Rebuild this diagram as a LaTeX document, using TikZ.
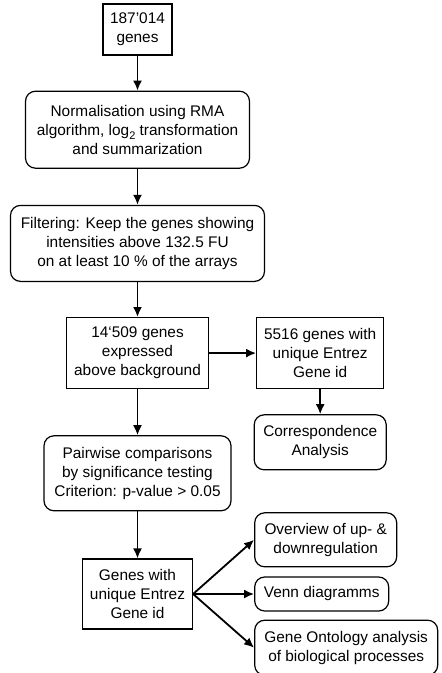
\documentclass[tikz,border=0pt]{standalone}
\usepackage{fontspec}
\setmainfont{Liberation Sans}
\usepackage{xcolor}
\usepackage{tikz}
\usetikzlibrary{shapes.geometric, arrows.meta, positioning, calc}

\begin{document}
\begin{tikzpicture}[
    x=1pt, y=1pt,
    node distance=35pt,
    font=\fontsize{15.4}{19}\selectfont,
    box/.style={rectangle, draw, line width=1.2pt, align=center, inner sep=2pt},
    rbox/.style={box, rounded corners=10pt},
    arrow/.style={line width=1.8pt,-{Latex[length=10pt,width=9pt]}}
]
\useasboundingbox (0,0) rectangle (442,-673);

\node[box, minimum width=69pt, minimum height=51pt] (raw) at (137.5,-29.5) {187\symbol{"27}014\\genes};
\node[rbox, minimum width=224pt, minimum height=77pt, below=of raw] (norm) {Normalisation using RMA\\algorithm, log\raisebox{-4pt}{\fontsize{11}{11}\selectfont 2} transformation\\and summarization};
\node[rbox, minimum width=254pt, minimum height=76pt, below=36pt of norm] (filter) {Filtering: Keep the genes showing\\intensities above 132.5 FU\\on at least 10 \% of the arrays};
\node[box, minimum width=142pt, minimum height=71pt, below=of filter] (expressed) {14‘509 genes\\expressed\\above background};
\node[box, minimum width=127pt, minimum height=71pt, right=47pt of expressed] (entrez) {5516 genes with\\unique Entrez\\Gene id};
\node[rbox, minimum width=132pt, minimum height=55pt, below=25pt of entrez] (corresp) {Correspondence\\Analysis};
\node[rbox, minimum width=187pt, minimum height=75pt, below=46pt of expressed] (pairwise) {Pairwise comparisons\\by significance testing\\Criterion: p-value > 0.05};
\node[box, minimum width=110pt, minimum height=70pt, below=47pt of pairwise] (genes) {Genes with\\unique Entrez\\Gene id};
\node[rbox, minimum width=134pt, minimum height=34pt, right=61pt of genes] (venn) {Venn diagramms};
\node[rbox, minimum width=142pt, minimum height=54pt, anchor=south west] (overview) at ([yshift=9pt]venn.north west) {Overview of up- \&\\downregulation};
\node[rbox, minimum width=183pt, minimum height=55pt, anchor=north west] (ontology) at ([yshift=-8pt]venn.south west) {Gene Ontology analysis\\of biological processes};

\draw[arrow] (raw) -- (norm);
\draw[arrow] (norm) -- (filter);
\draw[arrow] (filter) -- (expressed);
\draw[arrow] (expressed) -- (entrez);
\draw[arrow] (entrez) -- (corresp);
\draw[arrow] (expressed) -- (pairwise);
\draw[arrow] (pairwise) -- (genes);
\draw[arrow] (genes.east) -- (overview.west);
\draw[arrow] (genes.east) -- (venn.west);
\draw[arrow] (genes.east) -- (ontology.west);

\end{tikzpicture}
\end{document}
